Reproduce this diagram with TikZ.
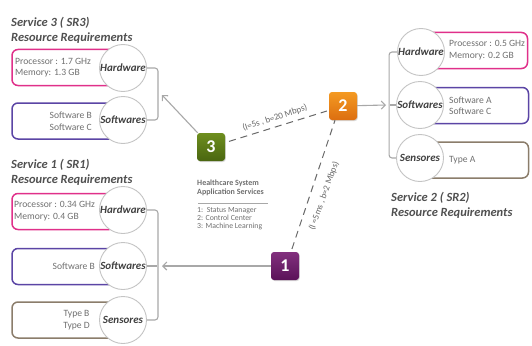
\documentclass[tikz,border=0pt]{standalone}
\usepackage{fontspec}
\setmainfont{Carlito}
\usetikzlibrary{arrows.meta,shadows}
\definecolor{pinkb}{HTML}{E0308A}
\definecolor{purpb}{HTML}{5B45A5}
\definecolor{sensb}{HTML}{8B7D6B}
\definecolor{titlegray}{HTML}{505050}
\definecolor{textgray}{HTML}{707070}
\definecolor{circgray}{HTML}{C4C4C4}
\definecolor{linegray}{HTML}{A8A8A8}
\definecolor{dashgray}{HTML}{686868}
\definecolor{greenT}{HTML}{6E8E1E}
\definecolor{greenB}{HTML}{4A6610}
\definecolor{orangeT}{HTML}{F49A22}
\definecolor{orangeB}{HTML}{DC6E10}
\definecolor{purT}{HTML}{82307E}
\definecolor{purB}{HTML}{5A1258}
\begin{document}
\begin{tikzpicture}[x=1pt,y=-1pt,
  title/.style={anchor=west, align=left, inner sep=0pt, text=titlegray,
    font=\fontsize{12.5}{15}\selectfont\bfseries\itshape},
  rbox/.style={draw, rounded corners=6pt, line width=1.5pt, fill=white,
    minimum width=103pt, minimum height=36pt, inner sep=0pt},
  circ/.style={circle, draw=circgray, fill=white, line width=0.9pt,
    minimum size=47pt, inner sep=0pt, text=black!75,
    font=\fontsize{11}{11}\selectfont\bfseries\itshape},
  btext/.style={inner sep=0pt, text=textgray, font=\fontsize{9.6}{11.5}\selectfont},
  conn/.style={draw=linegray, line width=1.1pt, rounded corners=3pt},
  arr/.style={draw=linegray, line width=1.1pt, -{Straight Barb[length=4pt,width=8pt]}},
  dline/.style={draw=dashgray, line width=1pt, dash pattern=on 7pt off 5pt},
  dlabel/.style={inner sep=0pt, text=dashgray, font=\fontsize{9}{9}\selectfont},
  num/.style={rounded corners=3pt, minimum size=28pt, inner sep=0pt, text=white,
    font=\fontsize{18}{18}\selectfont\bfseries,
    drop shadow={opacity=0.3, shadow xshift=0.8pt, shadow yshift=-1pt}},
  info/.style={anchor=north west, align=left, inner sep=0pt, text=textgray}
]
\useasboundingbox (0,0) rectangle (532,345);
\fill[white] (0,0) rectangle (532,345);

% ---------- Service 3 ----------
\node[title] (t3) at (11,30) {Service 3 ( SR3)\\Resource Requirements};
\node[rbox, draw=pinkb] (hw3b) at (63.5,67.5) {};
\node[rbox, draw=purpb] (sw3b) at (63.5,121) {};
\node[circ] (hw3) at (123,68) {Hardware};
\node[circ] (sw3) at (123,120) {Softwares};
\node[btext, anchor=west, align=left] (hw3t) at (15,67.5) {Processor : 1.7 GHz\\Memory: 1.3 GB};
\node[btext, anchor=east, align=center] (sw3t) at (92,121) {Software B\\Software C};
\draw[conn] (hw3.east) -- ++(11,0) |- (sw3.east);
\coordinate (b3) at (162,95);

% ---------- Service 1 ----------
\node[title] (t1) at (11,172) {Service 1 ( SR1)\\Resource Requirements};
\node[rbox, draw=pinkb] (hw1b) at (63.5,211.5) {};
\node[rbox, draw=purpb] (sw1b) at (63.5,266.5) {};
\node[rbox, draw=sensb] (se1b) at (63.5,320) {};
\node[circ] (hw1) at (123,210) {Hardware};
\node[circ] (sw1) at (123,266) {Softwares};
\node[circ] (se1) at (123,320) {Sensores};
\node[btext, anchor=west, align=left] (hw1t) at (14,211) {Processor : 0.34 GHz\\Memory: 0.4 GB};
\node[btext, anchor=east, align=center] (sw1t) at (95,266.5) {Software B};
\node[btext, anchor=east, align=center] (se1t) at (90,320) {Type B\\Type D};
\draw[conn] (hw1.east) -- ++(11,0) |- (se1.east);
\coordinate (j1) at (157,266);
\draw[conn] (sw1.east) -- (j1);
\coordinate (a1) at (162,266);

% ---------- Service 2 ----------
\node[title] (t2) at (391,205) {Service 2 ( SR2)\\Resource Requirements};
\node[rbox, draw=pinkb] (hw2b) at (476,50.5) {};
\node[rbox, draw=purpb] (sw2b) at (477,105.5) {};
\node[rbox, draw=sensb] (se2b) at (477,160) {};
\node[circ] (hw2) at (421,52) {Hardware};
\node[circ] (sw2) at (420,105) {Softwares};
\node[circ] (se2) at (420,158) {Sensores};
\node[btext, anchor=west, align=left] (hw2t) at (449,50) {Processor : 0.5 GHz\\Memory: 0.2 GB};
\node[btext, anchor=west, align=left] (sw2t) at (449,105.5) {Software A\\Software C};
\node[btext, anchor=west, align=left] (se2t) at (449,160) {Type A};
\draw[conn] (hw2.west) -- ++(-8,0) |- (se2.west);
\coordinate (j2) at (390,105);
\draw[conn] (sw2.west) -- (j2);
\coordinate (a2) at (386,105);

% ---------- Centre ----------
\node[num, top color=greenT, bottom color=greenB] (n3) at (211,147) {3};
\node[num, top color=orangeT, bottom color=orangeB] (n2) at (343,106) {2};
\node[num, top color=purT, bottom color=purB] (n1) at (285,266) {1};

\draw[arr] (n3) -- (b3);
\draw[arr] (n2) -- (a2);
\draw[arr] (n1) -- (a1);

\draw[dline, shorten <=4pt, shorten >=2pt] (n3) -- (n2);
\node[dlabel, rotate=18] (l32) at (275,118) {(l=5s , b=20 Mbps)};
\draw[dline, shorten <=3pt] ([xshift=6pt]n1.north) -- ([xshift=-8pt]n2.south);
\node[dlabel, rotate=70] (l12) at (324,196) {(l =5ms , b=2 Mbps)};

\node[info, font=\fontsize{8}{8.6}\selectfont\bfseries] (hs) at (197,180)
  {Healthcare System\\Application Services};
\coordinate (r1) at (198,203.5);
\coordinate (r2) at (268,203.5);
\draw[draw=linegray, line width=0.6pt] (r1) -- (r2);
\node[info, font=\fontsize{7.8}{8}\selectfont] (hl) at (197,207)
  {1:\ \ Status Manager\\2: Control Center\\3: Machine Learning};
\end{tikzpicture}
\end{document}
